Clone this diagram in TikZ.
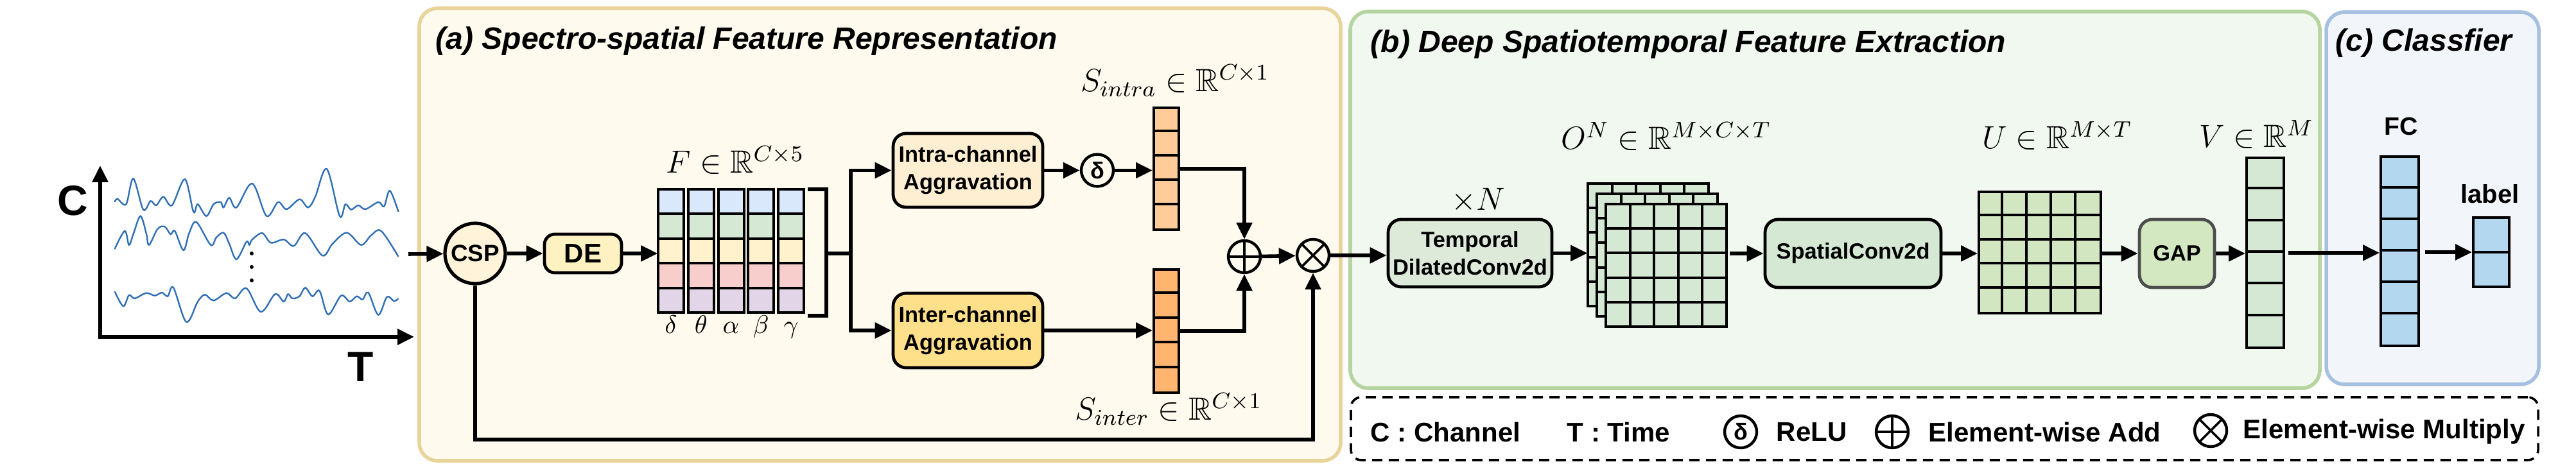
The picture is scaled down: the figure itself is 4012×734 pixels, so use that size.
\documentclass[tikz,border=0pt]{standalone}
\usepackage{fix-cm}
\usepackage{amssymb}
\usepackage[no-math]{fontspec}
\newfontfamily\arial{Liberation Sans}
\usetikzlibrary{arrows.meta,calc}
\definecolor{pAf}{HTML}{FEFAEE}\definecolor{pAd}{HTML}{E8D49A}
\definecolor{pBf}{HTML}{F1F8EF}\definecolor{pBd}{HTML}{B4D4A0}
\definecolor{pCf}{HTML}{F2F6FB}\definecolor{pCd}{HTML}{A6C0E0}
\definecolor{cBlue}{HTML}{DAE8FC}\definecolor{cGreen}{HTML}{D5E8D4}
\definecolor{cYel}{HTML}{FFF2CC}\definecolor{cPink}{HTML}{F8CECC}
\definecolor{cPurp}{HTML}{E1D5E7}
\definecolor{intraF}{HTML}{FFEFD2}\definecolor{interF}{HTML}{FFE08A}
\definecolor{sintraF}{HTML}{FFCC99}\definecolor{sinterF}{HTML}{FFB570}
\definecolor{deF}{HTML}{FFF2C2}\definecolor{cspF}{HTML}{FFF3D9}
\definecolor{tempF}{HTML}{DDEADA}\definecolor{spatF}{HTML}{D5E8D4}
\definecolor{gapF}{HTML}{D3E8C1}\definecolor{gapD}{HTML}{4D4D4D}
\definecolor{stkF}{HTML}{D5E8D4}\definecolor{ugF}{HTML}{D3E6C2}
\definecolor{vF}{HTML}{D5E8D4}\definecolor{fcF}{HTML}{B3D7EF}
\definecolor{waveC}{HTML}{2F6EB5}
\newcommand{\xTtl}{\arial\bfseries\itshape\fontsize{12}{14}\selectfont}
\newcommand{\xNode}{\arial\bfseries\fontsize{8.6}{10.75}\selectfont}
\newcommand{\xLeg}{\arial\bfseries\fontsize{10.5}{12}\selectfont}
\newcommand{\xMath}{\fontsize{12.5}{14}\selectfont}
\newcommand{\xAx}{\arial\bfseries\fontsize{16.5}{18}\selectfont}
\begin{document}
\begin{tikzpicture}[x=0.25pt,y=-0.25pt,
  conn/.style={line width=1.4pt,-{Triangle[length=6.5pt,width=6pt]}},
  plain/.style={line width=1.4pt},
  rbox/.style={draw,line width=1.2pt,rounded corners=5pt,inner sep=0pt,align=center,font=\xNode},
  op/.style={circle,draw,line width=1.1pt,minimum size=12.5pt,inner sep=0pt},
  addop/.style={op,path picture={\draw[line width=0.9pt] (path picture bounding box.north) -- (path picture bounding box.south) (path picture bounding box.west) -- (path picture bounding box.east);}},
  mulop/.style={op,path picture={\draw[line width=0.9pt] (path picture bounding box.north west) -- (path picture bounding box.south east) (path picture bounding box.north east) -- (path picture bounding box.south west);}},
  cell/.style={draw,line width=1pt},
  colbox/.style={draw,line width=1pt,inner sep=0pt},
  panel/.style={rounded corners=7pt,line width=1.4pt},
  ttl/.style={anchor=base west,inner sep=0pt,font=\xTtl},
  mlab/.style={anchor=base,inner sep=0pt,font=\xMath},
  leg/.style={anchor=west,inner sep=0pt,font=\xLeg},
  wave/.style={draw=waveC,line width=0.6pt}]
\useasboundingbox (0,0) rectangle (4012,734);
% panels
\draw[panel,fill=pAf,draw=pAd] (653,13) rectangle (2088,718);
\draw[panel,fill=pBf,draw=pBd] (2103,18) rectangle (3613,605);
\draw[panel,fill=pCf,draw=pCd] (3623,19) rectangle (3954,599);
\node[ttl] (ta) at (678,77) {(a) Spectro-spatial Feature Representation};
\node[ttl] (tb) at (2134,82) {(b) Deep Spatiotemporal Feature Extraction};
\node[ttl] (tc) at (3637,80) {(c) Classfier};
% legend
\node[draw,line width=0.9pt,dash pattern=on 4pt off 2.5pt,rounded corners=4pt,fill=white,minimum width=462.25pt,minimum height=24.5pt,inner sep=0pt] (legbox) at (3028.5,668) {};
\node[leg] (l1) at (2134,673) {C : Channel};
\node[leg] (l2) at (2440,673) {T : Time};
\node[op,font=\arial\bfseries\fontsize{9}{10}\selectfont] (lrelu) at (2711,673) {δ};
\node[leg] (l3) at (2766,673) {ReLU};
\node[addop] (lplus) at (2947,673) {};
\node[leg] (l4) at (3003,673) {Element-wise Add};
\node[mulop] (lmul) at (3443,671) {};
\node[leg] (l5) at (3493,673) {Element-wise Multiply};
% input signal plot
\coordinate (org) at (156,525);
\coordinate (ytip) at (156,258);
\coordinate (xtip) at (645,525);
\draw[conn,line width=1.5pt] (org) -- (ytip);
\draw[conn,line width=1.5pt] ([xshift=-0.7pt]org) -- (xtip);
\node[font=\xAx,inner sep=0pt] (cax) at (113,313) {C};
\node[font=\xAx,inner sep=0pt] (tax) at (562,572) {T};
\draw[wave] plot[smooth,tension=0.55] coordinates {(178.6,315) (183,310) (196.4,318.3) (207.6,278.3) (223.2,326.7) (234.4,313.3) (243.3,320) (254.4,306.7) (267.8,320) (287.9,279.3) (301.3,330) (308,318.3) (321.4,336.7) (332.6,318.3) (343.7,315) (348.2,323.3) (357.1,308.3) (368.3,323.3) (392.8,286) (415.2,336.7) (433,315) (446.4,326) (466.5,310.7) (479.9,323.3) (491,306.7) (508.9,263.3) (529,336.7) (537.9,318.3) (546.8,326.7) (558,320) (569.2,326) (589.2,315) (598.2,321.7) (607.1,297.3) (620.5,330)};
\draw[wave] plot[smooth,tension=0.55] coordinates {(178.6,388.3) (194.2,360) (200.9,381.7) (207.6,365) (218.7,336.7) (227.7,363.3) (232.1,381.7) (245.5,356.7) (256.7,353.3) (265.6,365) (272.3,360) (285.7,390) (294.6,363.3) (305.8,346) (328.1,381.7) (337,370) (348.2,362.7) (357.1,380) (368.3,404) (383.9,376.7) (388.4,381.7) (392.8,373.3) (408.5,363.3) (421.8,378.3) (441.9,373.3) (457.6,383.3) (475.4,363.3) (502.2,398.3) (517.8,380) (540.1,362.7) (562.4,381.7) (578.1,366.7) (593.7,360) (620.5,400)};
\draw[wave] plot[smooth,tension=0.55] coordinates {(178.6,454) (192,477.3) (200.9,460) (209.8,465) (227.7,456.7) (241.1,460.7) (252.2,456) (261.2,461.7) (270.1,448.3) (290.2,501.7) (308,470) (319.2,459.3) (332.6,468.3) (352.7,456.7) (366.1,465) (383.9,449.3) (406.2,486) (428.5,458.3) (441.9,470) (448.6,458.3) (455.3,465) (466.5,461.7) (475.4,448.3) (486.6,461.7) (497.7,453.3) (511.1,490) (531.2,460.7) (544.6,470) (555.7,461.7) (564.7,466.7) (573.6,456) (589.2,490.7) (602.6,462.7) (613.8,469.3) (620.5,465)};
\foreach \yy in {395,416,437} \fill (392,\yy) circle (0.75pt);
% part (a)
\coordinate (src) at (636,396);
\node[op,line width=1.3pt,fill=cspF,minimum size=23.5pt,font=\arial\bfseries\fontsize{9.2}{10}\selectfont] (csp) at (740,395) {CSP};
\node[rbox,fill=deF,rounded corners=4pt,minimum width=30pt,minimum height=15pt,font=\arial\bfseries\fontsize{10.5}{12}\selectfont] (de) at (908,395) {DE};
\foreach \c in {0,...,4}{
  \foreach \r/\cc in {0/cBlue,1/cGreen,2/cYel,3/cPink,4/cPurp}{
    \draw[cell,fill=\cc] ({1025+\c*46.75},{295+\r*38.4}) rectangle ++(40,38.4);
  }
}
\node[inner sep=0pt,minimum width=56.75pt,minimum height=48pt] (Fm) at (1138.5,391) {};
\foreach \c/\g in {0/\delta,1/\theta,2/\alpha,3/\beta,4/\gamma}
  \node[mlab,font=\fontsize{10}{12}\selectfont] (g\c) at ({1045+\c*46.75},520) {$\g$};
\node[mlab] (flab) at (1145,270) {$F\in\mathbb{R}^{C\times 5}$};
\draw[plain] (1258,295) -- (1287,295) -- (1287,492) -- (1258,492);
\coordinate (brk) at (1287,395);
\coordinate (split) at (1325,395);
\node[rbox,fill=intraF,minimum width=58.25pt,minimum height=28.75pt] (intra) at (1507.5,265.5) {Intra-channel\\Aggravation};
\node[rbox,fill=interF,minimum width=58.25pt,minimum height=29pt] (inter) at (1507.5,515) {Inter-channel\\Aggravation};
\node[op,font=\arial\bfseries\fontsize{9}{10}\selectfont] (relu) at (1709,265.5) {δ};
\node[colbox,fill=sintraF,minimum width=9.75pt,minimum height=47.5pt] (sintra) at (1816.5,263) {};
\foreach \i in {1,...,4} \draw[cell] ([yshift=-\i*9.5pt]sintra.north west) -- ([yshift=-\i*9.5pt]sintra.north east);
\node[colbox,fill=sinterF,minimum width=9.75pt,minimum height=48pt] (sinter) at (1816.5,516) {};
\foreach \i in {1,...,4} \draw[cell] ([yshift=-\i*9.6pt]sinter.north west) -- ([yshift=-\i*9.6pt]sinter.north east);
\node[mlab] (silab) at (1830,143) {$S_{intra}\in\mathbb{R}^{C\times 1}$};
\node[mlab] (selab) at (1820,655) {$S_{inter}\in\mathbb{R}^{C\times 1}$};
\node[addop] (plus) at (1938,400) {};
\node[mulop] (mul) at (2045,398) {};
\coordinate (bl) at (740,685);
\draw[conn] (src) -- (csp);
\draw[conn] (csp) -- (de);
\draw[conn] (de.east) -- (de.east -| Fm.west);
\draw[plain] (brk) -- (split);
\draw[conn] (split) |- (intra);
\draw[conn] (split) |- (inter);
\draw[conn] (intra) -- (relu);
\draw[conn] (relu) -- (relu -| sintra.west);
\draw[conn] (sintra.east) -| (plus);
\draw[conn] (inter) -- (inter -| sinter.west);
\draw[conn] (sinter.east) -| (plus);
\draw[conn] (plus) -- (mul);
\draw[conn] (csp) -- (bl) -| (mul);
% part (b)
\node[rbox,fill=tempF,minimum width=63.75pt,minimum height=26.25pt] (temporal) at (2289.5,394.5) {Temporal\\DilatedConv2d};
\node[mlab] (xn) at (2302,328) {$\times N$};
\foreach \dx/\dy in {-28/-32,-14/-16,0/0}{
  \draw[cell,fill=stkF] ({2501+\dx},{318+\dy}) rectangle ++(188,191);
  \foreach \i in {1,...,4}{
    \draw[cell] ({2501+\dx+\i*37.6},{318+\dy}) -- ++(0,191);
    \draw[cell] ({2501+\dx},{318+\dy+\i*38.2}) -- ++(188,0);
  }
}
\node[inner sep=0pt,minimum width=54pt,minimum height=55.75pt] (stk) at (2581,397.5) {};
\node[mlab] (olab) at (2595,233) {$O^{N}\in\mathbb{R}^{M\times C\times T}$};
\node[rbox,fill=spatF,minimum width=68.5pt,minimum height=26.5pt] (spatial) at (2886,395) {SpatialConv2d};
\node[colbox,fill=ugF,minimum width=47.5pt,minimum height=47.25pt] (ug) at (3177,393.5) {};
\foreach \i in {1,...,4}{
  \draw[cell] ([xshift=\i*9.5pt]ug.north west) -- ([xshift=\i*9.5pt]ug.south west);
  \draw[cell] ([yshift=-\i*9.45pt]ug.north west) -- ([yshift=-\i*9.45pt]ug.north east);
}
\node[mlab] (ulab) at (3204,232) {$U\in\mathbb{R}^{M\times T}$};
\node[rbox,fill=gapF,draw=gapD,minimum width=29.25pt,minimum height=26.5pt] (gap) at (3390.5,395) {GAP};
\node[colbox,fill=vF,minimum width=14.5pt,minimum height=74pt] (vcol) at (3528,394) {};
\foreach \i in {1,...,5} \draw[cell] ([yshift=-\i*12.333pt]vcol.north west) -- ([yshift=-\i*12.333pt]vcol.north east);
\node[mlab] (vlab) at (3514,230) {$V\in\mathbb{R}^{M}$};
\draw[conn] (mul) -- (mul -| temporal.west);
\draw[conn] (temporal) -- (temporal -| stk.west);
\draw[conn] ([xshift=1pt]stk.east |- spatial.west) -- (spatial.west);
\draw[conn] (spatial) -- (spatial -| ug.west);
\draw[conn] (ug.east |- gap.west) -- (gap.west);
\draw[conn] (gap) -- (gap -| vcol.west);
% part (c)
\node[colbox,fill=fcF,minimum width=14.75pt,minimum height=73.75pt] (fc) at (3737.5,392) {};
\foreach \i in {1,...,5} \draw[cell] ([yshift=-\i*12.29pt]fc.north west) -- ([yshift=-\i*12.29pt]fc.north east);
\node[colbox,fill=fcF,minimum width=14pt,minimum height=27pt] (lab) at (3880,393) {};
\draw[cell] (lab.west) -- (lab.east);
\node[font=\arial\bfseries\fontsize{9.8}{11}\selectfont,inner sep=0pt] (fct) at (3740,197) {FC};
\node[font=\arial\bfseries\fontsize{10}{11}\selectfont,inner sep=0pt] (labt) at (3878,302) {label};
\draw[conn,shorten <=1.2pt] (vcol.east) -- (vcol.east -| fc.west);
\draw[conn,shorten <=2pt] (fc.east |- lab.west) -- (lab.west);
\end{tikzpicture}
\end{document}
